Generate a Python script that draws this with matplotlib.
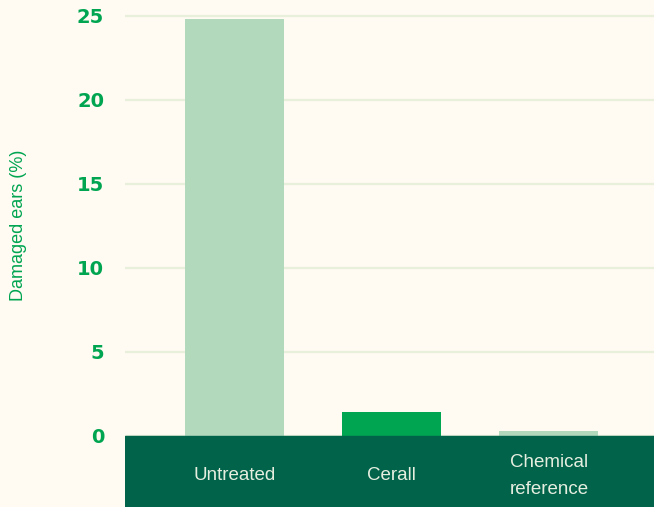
import matplotlib.pyplot as plt

# Данные
categories = ["Untreated", "Cerall", "Chemical\nreference"]
damaged = [24.8, 1.4, 0.3]
bar_colors = ["#b3d9bd", "#00a551", "#b3d9bd"]
y_ticks = [0, 5, 10, 15, 20, 25]

bg = "#fffaf2"
green = "#00a551"
dark = "#00634a"

fig = plt.figure(figsize=(6.54, 5.07), dpi=100)
fig.patch.set_facecolor(bg)
ax = fig.add_axes([125 / 654, 0, 529 / 654, 1])
ax.set_facecolor(bg)

x = list(range(len(categories)))
ax.bar(x, damaged, width=0.63, color=bar_colors, zorder=3)

# Нижняя тёмная полоса с подписями категорий
ax.set_ylim(-4.23, 25.95)
ax.set_xlim(-0.70, 2.67)
ax.axhspan(-4.23, 0, color=dark, zorder=4)
for xi, name in zip(x, categories):
    ax.text(xi, -2.38, name, ha="center", va="center", fontsize=13.5,
            family="Liberation Sans", color="#e6eee0", linespacing=1.75, zorder=5)

# Сетка и оси
ax.set_yticks(y_ticks)
ax.set_xticks([])
ax.grid(axis="y", color="#e8f0dc", linewidth=1.6, zorder=0)
ax.tick_params(axis="y", length=0, pad=15, labelcolor=green)
for lbl in ax.get_yticklabels():
    lbl.set_fontweight("bold")
    lbl.set_fontsize(14)
for spine in ax.spines.values():
    spine.set_visible(False)

fig.text(19 / 654, 1 - 225 / 507, "Damaged ears (%)", rotation=90, ha="center", va="center",
         fontsize=13, family="Liberation Sans", color=green)

fig.savefig("out.png", dpi=100, facecolor=bg)
